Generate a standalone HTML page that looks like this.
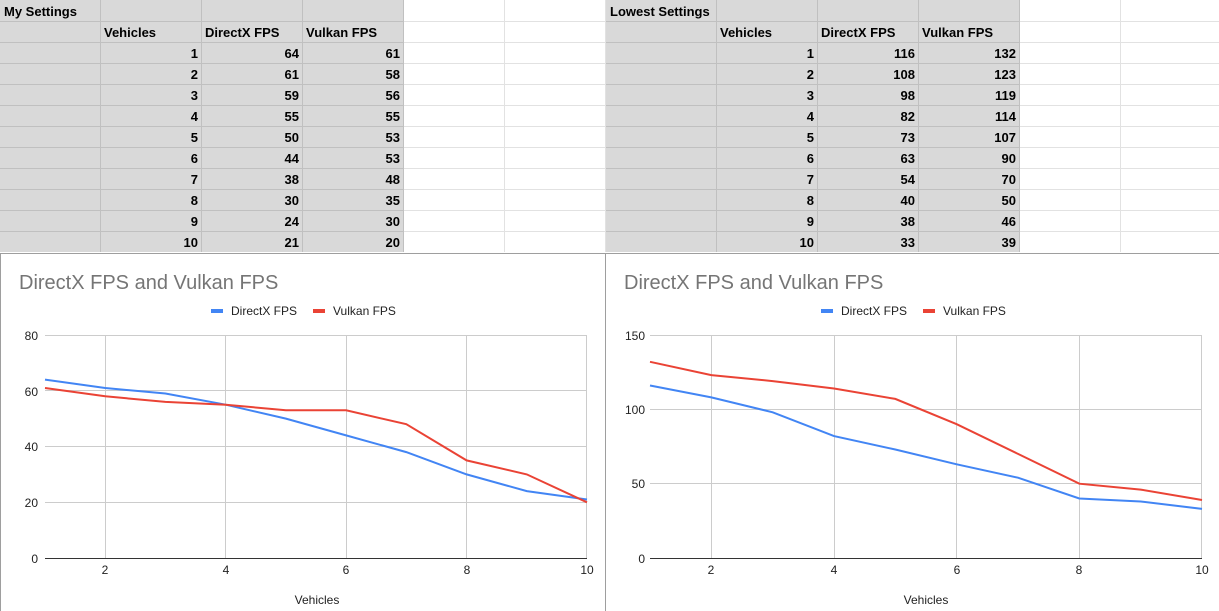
<!DOCTYPE html>
<html><head><meta charset="utf-8"><style>
body{margin:0;background:#fff;}
svg{display:block;font-family:"Liberation Sans",Arial,sans-serif;}
.b{font-weight:bold;font-size:13px;fill:#000;}
.r{text-anchor:end;}
.ax{font-size:12px;fill:#222;}
.t{font-size:20px;fill:#757575;}
.lg{font-size:12px;fill:#222;}
</style></head><body>
<svg width="1219" height="611" viewBox="0 0 1219 611">
<rect x="0" y="0" width="1219" height="253" fill="#fff"/>
<rect x="0" y="0" width="404" height="252" fill="#d9d9d9"/>
<rect x="606" y="0" width="414" height="252" fill="#d9d9d9"/>
<g stroke="#e2e2e2" stroke-width="1">
<path d="M404 21.5H606M404 42.5H606M404 63.5H606M404 84.5H606M404 105.5H606M404 126.5H606M404 147.5H606M404 168.5H606M404 189.5H606M404 210.5H606M404 231.5H606M504.5 0V252M605.5 0V252"/>
<path d="M1020 21.5H1219M1020 42.5H1219M1020 63.5H1219M1020 84.5H1219M1020 105.5H1219M1020 126.5H1219M1020 147.5H1219M1020 168.5H1219M1020 189.5H1219M1020 210.5H1219M1020 231.5H1219M1120.5 0V252"/>
</g>
<g stroke="#c0c0c0" stroke-width="1">
<path d="M0 21.5H404M0 42.5H404M0 63.5H404M0 84.5H404M0 105.5H404M0 126.5H404M0 147.5H404M0 168.5H404M0 189.5H404M0 210.5H404M0 231.5H404M100.5 0V252M201.5 0V252M302.5 0V252M403.5 0V252"/>
<path d="M606 21.5H1020M606 42.5H1020M606 63.5H1020M606 84.5H1020M606 105.5H1020M606 126.5H1020M606 147.5H1020M606 168.5H1020M606 189.5H1020M606 210.5H1020M606 231.5H1020M716.5 0V252M817.5 0V252M918.5 0V252M1019.5 0V252"/>
</g>
<g class="b">
<text x="4" y="16">My Settings</text>
<text x="104" y="37">Vehicles</text><text x="205" y="37">DirectX FPS</text><text x="306" y="37">Vulkan FPS</text>
<text x="610" y="16">Lowest Settings</text>
<text x="720" y="37">Vehicles</text><text x="821" y="37">DirectX FPS</text><text x="922" y="37">Vulkan FPS</text>
</g>
<g class="b r">
<text x="198" y="58">1</text><text x="299" y="58">64</text><text x="400" y="58">61</text>
<text x="198" y="79">2</text><text x="299" y="79">61</text><text x="400" y="79">58</text>
<text x="198" y="100">3</text><text x="299" y="100">59</text><text x="400" y="100">56</text>
<text x="198" y="121">4</text><text x="299" y="121">55</text><text x="400" y="121">55</text>
<text x="198" y="142">5</text><text x="299" y="142">50</text><text x="400" y="142">53</text>
<text x="198" y="163">6</text><text x="299" y="163">44</text><text x="400" y="163">53</text>
<text x="198" y="184">7</text><text x="299" y="184">38</text><text x="400" y="184">48</text>
<text x="198" y="205">8</text><text x="299" y="205">30</text><text x="400" y="205">35</text>
<text x="198" y="226">9</text><text x="299" y="226">24</text><text x="400" y="226">30</text>
<text x="198" y="247">10</text><text x="299" y="247">21</text><text x="400" y="247">20</text>
<text x="814" y="58">1</text><text x="915" y="58">116</text><text x="1016" y="58">132</text>
<text x="814" y="79">2</text><text x="915" y="79">108</text><text x="1016" y="79">123</text>
<text x="814" y="100">3</text><text x="915" y="100">98</text><text x="1016" y="100">119</text>
<text x="814" y="121">4</text><text x="915" y="121">82</text><text x="1016" y="121">114</text>
<text x="814" y="142">5</text><text x="915" y="142">73</text><text x="1016" y="142">107</text>
<text x="814" y="163">6</text><text x="915" y="163">63</text><text x="1016" y="163">90</text>
<text x="814" y="184">7</text><text x="915" y="184">54</text><text x="1016" y="184">70</text>
<text x="814" y="205">8</text><text x="915" y="205">40</text><text x="1016" y="205">50</text>
<text x="814" y="226">9</text><text x="915" y="226">38</text><text x="1016" y="226">46</text>
<text x="814" y="247">10</text><text x="915" y="247">33</text><text x="1016" y="247">39</text>
</g>
<!-- chart frames -->
<path d="M0 253.5H1219M0.5 253V611M605.5 253V611" stroke="#9e9e9e" stroke-width="1" fill="none"/>
<!-- left chart -->
<text class="t" x="19" y="289">DirectX FPS and Vulkan FPS</text>
<rect x="211" y="309" width="12" height="4" fill="#4285f4"/><text class="lg" x="231" y="315">DirectX FPS</text>
<rect x="313" y="309" width="12" height="4" fill="#ea4335"/><text class="lg" x="333" y="315">Vulkan FPS</text>
<g stroke="#cccccc" stroke-width="1">
<path d="M45 335.5H587M45 390.5H587M45 446.5H587M45 502.5H587M105.5 335V558M225.5 335V558M346.5 335V558M466.5 335V558M586.5 335V558"/>
</g>
<path d="M45 558.5H587" stroke="#333" stroke-width="1"/>
<g class="ax r"><text x="38" y="340">80</text><text x="38" y="396">60</text><text x="38" y="451">40</text><text x="38" y="507">20</text><text x="38" y="563">0</text></g>
<g class="ax" text-anchor="middle"><text x="105" y="574">2</text><text x="226" y="574">4</text><text x="346" y="574">6</text><text x="467" y="574">8</text><text x="587" y="574">10</text><text x="317" y="604">Vehicles</text></g>
<polyline fill="none" stroke="#4285f4" stroke-width="2" points="45,379.6 105.2,388 165.4,393.5 225.7,404.7 285.9,418.6 346.1,435.4 406.3,452.1 466.6,474.4 526.8,491.1 587,499.5"/>
<polyline fill="none" stroke="#ea4335" stroke-width="2" points="45,388 105.2,396.3 165.4,401.9 225.7,404.7 285.9,410.3 346.1,410.3 406.3,424.2 466.6,460.4 526.8,474.4 587,502.3"/>
<!-- right chart -->
<text class="t" x="624" y="289">DirectX FPS and Vulkan FPS</text>
<rect x="821" y="309" width="12" height="4" fill="#4285f4"/><text class="lg" x="841" y="315">DirectX FPS</text>
<rect x="923" y="309" width="12" height="4" fill="#ea4335"/><text class="lg" x="943" y="315">Vulkan FPS</text>
<g stroke="#cccccc" stroke-width="1">
<path d="M650 335.5H1202M650 409.5H1202M650 483.5H1202M711.5 335V558M834.5 335V558M956.5 335V558M1079.5 335V558M1201.5 335V558"/>
</g>
<path d="M650 558.5H1202" stroke="#333" stroke-width="1"/>
<g class="ax r"><text x="645" y="340">150</text><text x="645" y="414">100</text><text x="645" y="488">50</text><text x="645" y="563">0</text></g>
<g class="ax" text-anchor="middle"><text x="711" y="574">2</text><text x="834" y="574">4</text><text x="957" y="574">6</text><text x="1079" y="574">8</text><text x="1202" y="574">10</text><text x="926" y="604">Vehicles</text></g>
<polyline fill="none" stroke="#4285f4" stroke-width="2" points="650,385.5 711.3,397.4 772.7,412.3 834,436.1 895.3,449.5 956.7,464.3 1018,477.7 1079.3,498.5 1140.7,501.5 1202,508.9"/>
<polyline fill="none" stroke="#ea4335" stroke-width="2" points="650,361.8 711.3,375.1 772.7,381.1 834,388.5 895.3,398.9 956.7,424.2 1018,453.9 1079.3,483.7 1140.7,489.6 1202,500"/>
</svg>
</body></html>
